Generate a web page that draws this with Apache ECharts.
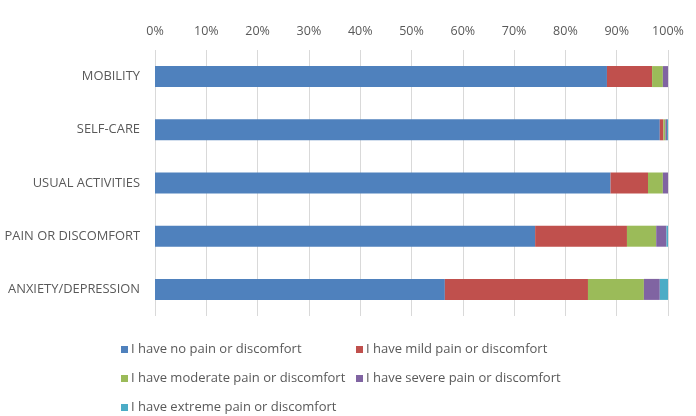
<!DOCTYPE html>
<html><head><meta charset="utf-8">
<script src="https://cdn.jsdelivr.net/npm/echarts@6/dist/echarts.min.js"></script>
<style>html,body{margin:0;padding:0;background:#fff}#c{width:696px;height:416px}</style>
</head><body><div id="c"></div>
<script>
const categories = ["MOBILITY", "SELF-CARE", "USUAL ACTIVITIES", "PAIN OR DISCOMFORT", "ANXIETY/DEPRESSION"];
const seriesNames = ["I have no pain or discomfort", "I have mild pain or discomfort", "I have moderate pain or discomfort", "I have severe pain or discomfort", "I have extreme pain or discomfort"];
const noPain = [88.1, 98.4, 88.8, 74.1, 56.5];
const mildPain = [8.8, 0.7, 7.3, 17.9, 27.9];
const moderatePain = [2.1, 0.4, 2.9, 5.7, 10.9];
const severePain = [1.0, 0.3, 1.0, 2.0, 3.1];
const extremePain = [0.0, 0.2, 0.0, 0.3, 1.6];
const tickLabels = ["0%", "10%", "20%", "30%", "40%", "50%", "60%", "70%", "80%", "90%", "100%"];

const colors = ["#4F81BD", "#C0504D", "#9BBB59", "#8064A2", "#4BACC6"];
const values = [noPain, mildPain, moderatePain, severePain, extremePain];
const legendPos = [[116, 338], [351, 338], [116, 367], [351, 367], [116, 396]];
const font = "'Open Sans', sans-serif";

const chart = echarts.init(document.getElementById('c'), null, {renderer: 'canvas'});
chart.setOption({
  animation: false,
  color: colors,
  grid: {left: 155, right: 28, top: 50, bottom: 100, containLabel: false},
  xAxis: {
    type: 'value', min: 0, max: 100, interval: 10, position: 'top',
    axisLine: {show: false}, axisTick: {show: false},
    splitLine: {lineStyle: {color: '#D9D9D9', width: 1}},
    axisLabel: {color: '#595959', fontSize: 12.5, fontFamily: font, margin: 12,
      formatter: v => tickLabels[Math.round(v / 10)]}
  },
  yAxis: {
    type: 'category', data: categories, inverse: true,
    axisLine: {show: false}, axisTick: {show: false},
    axisLabel: {color: '#595959', fontSize: 12.9, fontFamily: font, margin: 15}
  },
  legend: seriesNames.map((n, i) => ({
    data: [n], left: legendPos[i][0], top: legendPos[i][1],
    icon: 'rect', itemWidth: 7, itemHeight: 7, itemGap: 0,
    textStyle: {color: '#595959', fontSize: 13, fontFamily: font, padding: [0, 0, 0, -2]}
  })),
  series: seriesNames.map((n, i) => ({
    name: n, type: 'bar', stack: 'total', data: values[i], barWidth: 21,
    itemStyle: {color: colors[i]}
  }))
});
</script></body></html>
